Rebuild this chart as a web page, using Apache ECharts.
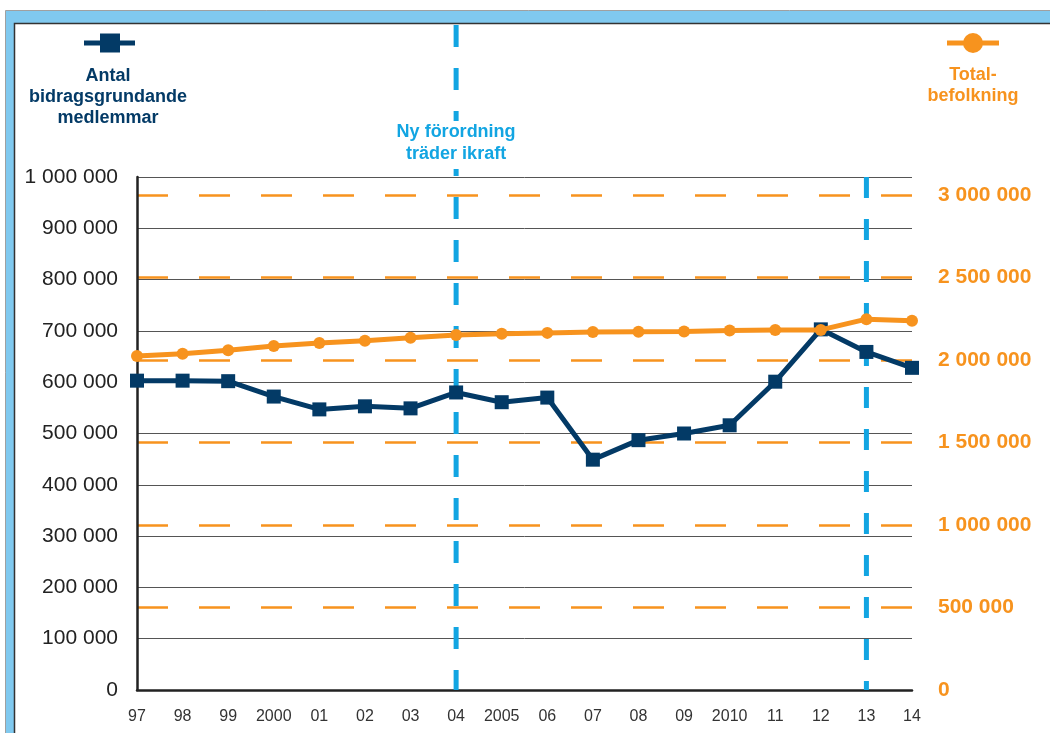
<!DOCTYPE html>
<html>
<head>
<meta charset="utf-8">
<script src="https://cdn.jsdelivr.net/npm/echarts@6.0.0/dist/echarts.min.js"></script>
<style>
html,body{margin:0;padding:0;background:#fff;}
#chart{width:1050px;height:733px;}
</style>
</head>
<body>
<div id="chart"></div>
<script>
// ---- data ----
var years = ['97','98','99','2000','01','02','03','04','2005','06','07','08','09','2010','11','12','13','14'];
var members = [603000, 603000, 602000, 572000, 547000, 553000, 549000, 580000, 561000, 570000, 449000, 487000, 500000, 516000, 601000, 703000, 659000, 628000];
var population = [2025000, 2038000, 2060000, 2085000, 2103000, 2117000, 2135000, 2152000, 2160000, 2165000, 2170000, 2172000, 2174000, 2180000, 2182000, 2183000, 2248000, 2238000];
var markerYears = ['04', '13'];
var leftTicks = { min: 0, max: 1000000, interval: 100000 };
var rightTicks = { min: 0, max: 3110000, interval: 500000 };
var legendMembers = 'Antal\nbidragsgrundande\nmedlemmar';
var legendPopulation = 'Total-\nbefolkning';
var annotation = 'Ny förordning\nträder ikraft';

var NAVY = '#033a66', ORANGE = '#f7931e', SKY = '#12a5e2';
var FONT = '"Liberation Sans", Arial, sans-serif';

function fmt(v){ return String(v).replace(/\B(?=(\d{3})+(?!\d))/g, ' '); }

var chart = echarts.init(document.getElementById('chart'), null, {renderer:'canvas'});

var frame = [
  {type:'rect', z:-10, shape:{x:5.5, y:10.5, width:1100, height:800}, style:{fill:'#80c9ef', stroke:'#a0a0a0', lineWidth:1}},
  {type:'rect', z:-9, shape:{x:14.5, y:23.5, width:1100, height:800}, style:{fill:'#ffffff', stroke:'#333333', lineWidth:1.5}}
];

var legendGraphics = [
  {type:'line', z:5, shape:{x1:84, y1:43, x2:135, y2:43}, style:{stroke:NAVY, lineWidth:5}},
  {type:'rect', z:6, shape:{x:100, y:33.5, width:20, height:19}, style:{fill:NAVY}},
  {type:'text', z:5, x:108, y:66, style:{text:legendMembers, font:'bold 18px ' + FONT, fill:NAVY, align:'center', verticalAlign:'top', lineHeight:21}},
  {type:'line', z:5, shape:{x1:947, y1:43, x2:999, y2:43}, style:{stroke:ORANGE, lineWidth:5}},
  {type:'circle', z:6, shape:{cx:973, cy:43, r:10}, style:{fill:ORANGE}},
  {type:'text', z:5, x:973, y:65, style:{text:legendPopulation, font:'bold 18px ' + FONT, fill:ORANGE, align:'center', verticalAlign:'top', lineHeight:21}}
];

var option = {
  backgroundColor: 'transparent',
  animation: false,
  grid: {left:137, right:138, top:177, bottom:43, containLabel:false},
  xAxis: {
    type:'category', data:years, boundaryGap:false,
    axisLine:{show:true, lineStyle:{color:'#222', width:2.5}},
    axisTick:{show:false},
    axisLabel:{color:'#333', fontSize:16, fontFamily:FONT, margin:19, interval:0},
    splitLine:{show:false}
  },
  yAxis: [
    {
      type:'value', min:leftTicks.min, max:leftTicks.max, interval:leftTicks.interval,
      position:'left',
      axisLine:{show:true, lineStyle:{color:'#222', width:2.5}},
      axisTick:{show:false},
      axisLabel:{color:'#222', fontSize:21, fontFamily:FONT, margin:19, formatter:fmt},
      splitLine:{show:true, lineStyle:{color:'#555', width:1}}
    },
    {
      type:'value', min:rightTicks.min, max:rightTicks.max, interval:rightTicks.interval,
      position:'right',
      axisLine:{show:false},
      axisTick:{show:false},
      axisLabel:{color:ORANGE, fontSize:21, fontWeight:'bold', fontFamily:FONT, margin:26, formatter:fmt, showMaxLabel:false},
      splitLine:{show:true, showMaxLine:false, showMinLine:false, lineStyle:{color:ORANGE, width:2.5, type:[31,31]}}
    }
  ],
  series: [
    {
      name:'Antal bidragsgrundande medlemmar', type:'line', yAxisIndex:0, data:members,
      symbol:'rect', symbolSize:14, z:3,
      lineStyle:{color:NAVY, width:5}, itemStyle:{color:NAVY}
    },
    {
      name:'Totalbefolkning', type:'line', yAxisIndex:1, data:population,
      symbol:'circle', symbolSize:12, z:4,
      lineStyle:{color:ORANGE, width:5}, itemStyle:{color:ORANGE}
    }
  ],
  graphic: frame.concat(legendGraphics)
};
chart.setOption(option);

// vertical "event" lines computed from the axes
var topY = chart.convertToPixel({yAxisIndex:0}, leftTicks.max);
var botY = chart.convertToPixel({yAxisIndex:0}, leftTicks.min);
var x04 = chart.convertToPixel({xAxisIndex:0}, markerYears[0]);
var x13 = chart.convertToPixel({xAxisIndex:0}, markerYears[1]);
var extra = [
  {type:'line', z:1, shape:{x1:x04, y1:25, x2:x04, y2:botY}, style:{stroke:SKY, lineWidth:5, lineDash:[22,21]}},
  {type:'line', z:1, shape:{x1:x13, y1:topY, x2:x13, y2:botY}, style:{stroke:SKY, lineWidth:5, lineDash:[21,21]}},
  {type:'rect', z:2, shape:{x:x04-72, y:121, width:144, height:48}, style:{fill:'#ffffff'}},
  {type:'text', z:3, x:x04, y:121, style:{text:annotation, font:'bold 18px ' + FONT, fill:SKY, align:'center', verticalAlign:'top', lineHeight:22}}
];
chart.setOption({graphic: frame.concat(legendGraphics).concat(extra)}, {replaceMerge:['graphic']});
</script>
</body>
</html>
